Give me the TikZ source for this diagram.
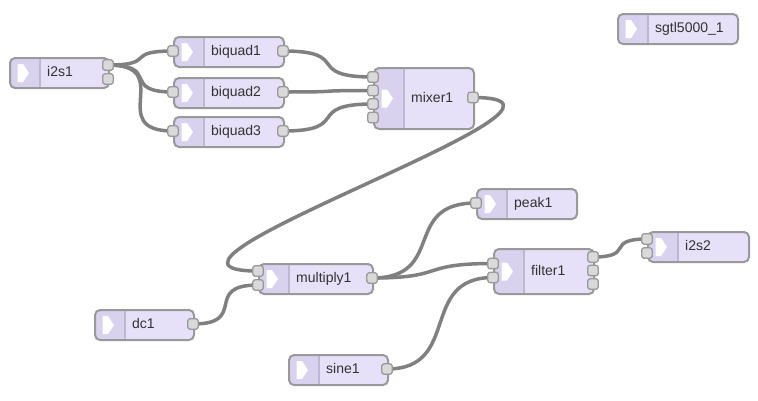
\documentclass[tikz,border=0pt]{standalone}
\usepackage{fontspec}
\setmainfont{Liberation Sans}
\pgfdeclarelayer{bg}
\pgfsetlayers{bg,main}
\definecolor{nodefill}{HTML}{E6E0F8}
\definecolor{iconfill}{HTML}{D8D2EE}
\definecolor{divcol}{HTML}{BDB7D2}
\definecolor{bordercol}{HTML}{999999}
\definecolor{portfill}{HTML}{D9D9D9}
\definecolor{wirecol}{HTML}{808080}
\definecolor{txtcol}{HTML}{333333}
\tikzset{
  anode/.style={draw=bordercol, line width=2bp, fill=nodefill, rounded corners=5bp,
    anchor=north west, inner sep=0pt,
    path picture={
      \fill[iconfill] (path picture bounding box.north west) rectangle ([xshift=30bp]path picture bounding box.south west);
      \draw[divcol, line width=1.2bp] ([xshift=30bp]path picture bounding box.north west) -- ([xshift=30bp]path picture bounding box.south west);
      \fill[white, sharp corners] ([shift={(7.5bp,9bp)}]path picture bounding box.west) -- ([shift={(13bp,9bp)}]path picture bounding box.west) -- ([shift={(19bp,0bp)}]path picture bounding box.west) -- ([shift={(13bp,-9bp)}]path picture bounding box.west) -- ([shift={(7.5bp,-9bp)}]path picture bounding box.west) -- cycle;
    }},
  lbl/.style={anchor=west, inner sep=0pt, text height=10bp, text depth=3bp, text=txtcol, font=\fontsize{14bp}{16bp}\selectfont},
  aport/.style={draw=bordercol, line width=1.3bp, fill=portfill, rounded corners=2.5bp, minimum width=10.5bp, minimum height=10.5bp, inner sep=0pt},
  wire/.style={draw=wirecol, line width=3.5bp},
}
\newcommand\mkbox[6]{%
  \node[anode, minimum width=#4bp, minimum height=#5bp] (#1) at (#2,#3) {};
  \node[lbl] (#1-l) at ([xshift=38bp]#1.west) {#6};}
\newcommand\mkport[3]{\node[aport] (#1) at (#2,#3) {};}
\begin{document}
\begin{tikzpicture}[x=1bp, y=-1bp]
\useasboundingbox (0,0) rectangle (758,400);
% nodes
\mkbox{sgtl}{617}{13}{120}{30}{sgtl5000\_1}
\mkbox{i2sa}{9}{57}{99}{30}{i2s1}
\mkbox{bqa}{173}{36}{110}{30}{biquad1}
\mkbox{bqb}{173}{77}{110}{30}{biquad2}
\mkbox{bqc}{173}{116}{110}{30}{biquad3}
\mkbox{mix}{373}{67}{100}{61}{mixer1}
\mkbox{mul}{258}{263}{114}{30}{multiply1}
\mkbox{dc}{94}{309}{99}{30}{dc1}
\mkbox{sine}{288}{354}{99}{30}{sine1}
\mkbox{peak}{476}{188}{100}{30}{peak1}
\mkbox{filt}{493}{248}{100}{45}{filter1}
\mkbox{i2sb}{647}{231}{101}{30}{i2s2}
% ports
\mkport{i2sa-o0}{108}{65}
\mkport{i2sa-o1}{108}{79}
\mkport{bqa-i}{173}{51}
\mkport{bqa-o}{283}{51}
\mkport{bqb-i}{173}{92}
\mkport{bqb-o}{283}{92}
\mkport{bqc-i}{173}{131}
\mkport{bqc-o}{283}{131}
\mkport{mix-i0}{373}{77}
\mkport{mix-i1}{373}{90.5}
\mkport{mix-i2}{373}{104}
\mkport{mix-i3}{373}{117.5}
\mkport{mix-o}{473}{97.5}
\mkport{mul-i0}{258}{271}
\mkport{mul-i1}{258}{285}
\mkport{mul-o}{372}{278}
\mkport{dc-o}{193}{324}
\mkport{sine-o}{387}{369}
\mkport{peak-i}{476}{203}
\mkport{filt-i0}{493}{263.5}
\mkport{filt-i1}{493}{277.5}
\mkport{filt-o0}{593}{257}
\mkport{filt-o1}{593}{270.5}
\mkport{filt-o2}{593}{284}
\mkport{i2sb-i0}{647}{239}
\mkport{i2sb-i1}{647}{253}
% wires
\begin{pgfonlayer}{bg}
\fill[white] (0,0) rectangle (758,400);
\draw[wire] (i2sa-o0.center) .. controls +(50,0) and +(-50,0) .. (bqa-i.center);
\draw[wire] (i2sa-o0.center) .. controls +(53,0) and +(-53,0) .. (bqb-i.center);
\draw[wire] (i2sa-o0.center) .. controls +(69,0) and +(-69,0) .. (bqc-i.center);
\draw[wire] (bqa-o.center) .. controls +(70,0) and +(-70,0) .. (mix-i0.center);
\draw[wire] (bqb-o.center) .. controls +(67,0) and +(-67,0) .. (mix-i1.center);
\draw[wire] (bqc-o.center) .. controls +(70,0) and +(-70,0) .. (mix-i2.center);
\draw[wire] (mix-o.center) .. controls +(161,0) and +(-161,0) .. (mul-i0.center);
\draw[wire] (dc-o.center) .. controls +(56,0) and +(-56,0) .. (mul-i1.center);
\draw[wire] (mul-o.center) .. controls +(75,0) and +(-75,0) .. (peak-i.center);
\draw[wire] (mul-o.center) .. controls +(75,0) and +(-75,0) .. (filt-i0.center);
\draw[wire] (sine-o.center) .. controls +(75,0) and +(-75,0) .. (filt-i1.center);
\draw[wire] (filt-o0.center) .. controls +(43,0) and +(-43,0) .. (i2sb-i0.center);
\end{pgfonlayer}
\end{tikzpicture}
\end{document}
